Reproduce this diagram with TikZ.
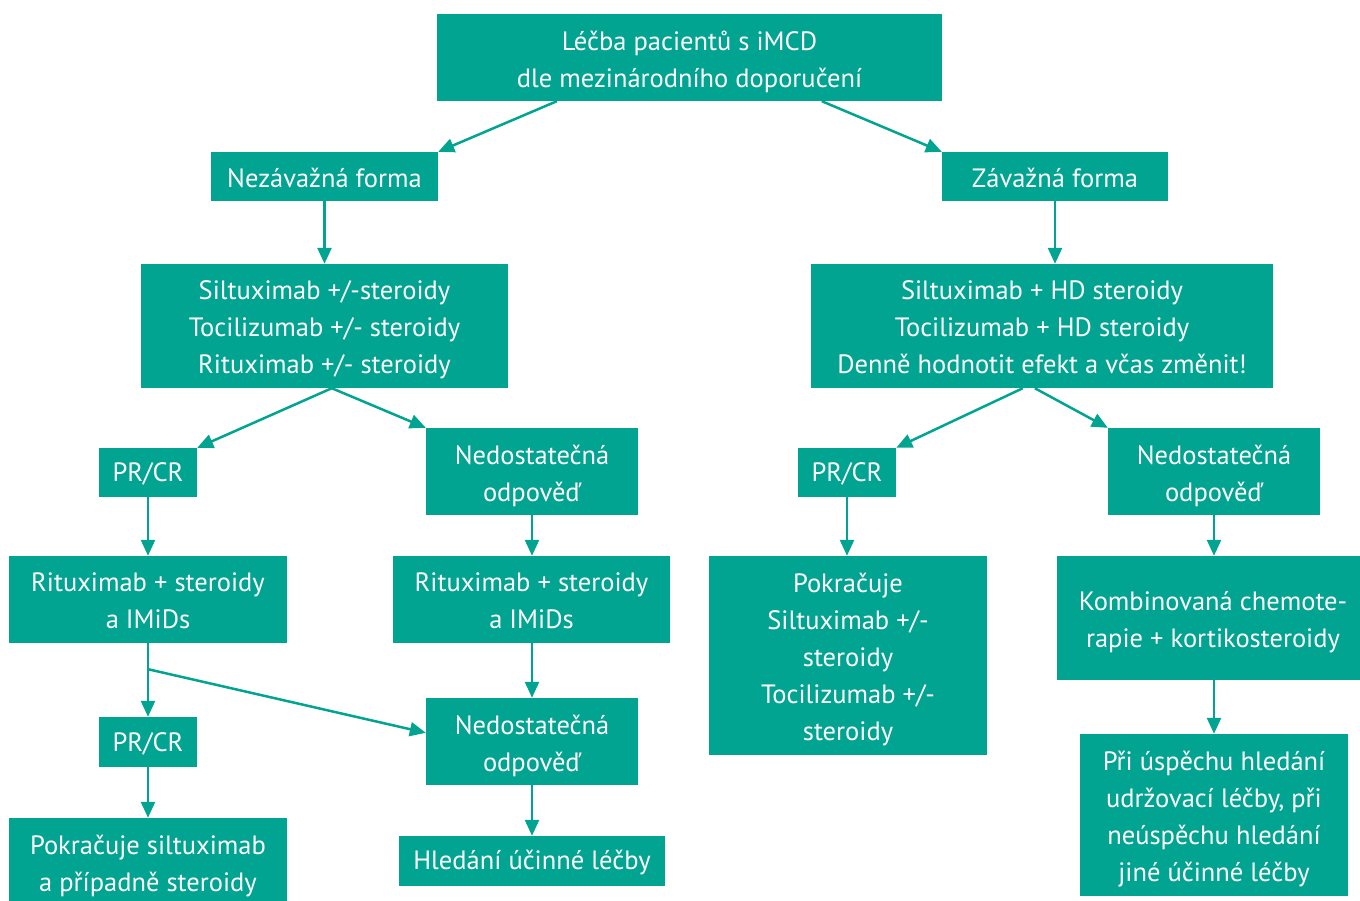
\documentclass[tikz,border=0pt]{standalone}
\usepackage{fontspec}
\setmainfont{PT Sans}
\usetikzlibrary{arrows.meta,calc}
\definecolor{teal1}{HTML}{00A491}
\tikzset{
  box/.style={fill=teal1, draw=none, inner sep=0pt},
  boxtext/.style={text=white, align=center, inner sep=0pt,
    font=\fontsize{26.5}{37}\selectfont},
  conn/.style={draw=teal1, line width=2.5pt, -{Triangle[length=16pt,width=14pt]}}
}
% name, cx, cy, w, h, text-offset, text
\newcommand{\bx}[7]{\node[box, minimum width=#4pt, minimum height=#5pt] (#1) at (#2,#3) {};
  \node[boxtext] (#1t) at ($(#1)+(0,#6)$) {#7};}
\begin{document}
\begin{tikzpicture}[x=1pt,y=-1pt]
\useasboundingbox (0,0) rectangle (1360,900);
\bx{top}{689.5}{57.5}{505}{87}{4}{Léčba pacientů s iMCD\\dle mezinárodního doporučení}
\bx{nez}{324.5}{176.5}{227}{49}{1.5}{Nezávažná forma}
\bx{zav}{1055}{176.5}{226}{49}{1.5}{Závažná forma}
\bx{L}{324.5}{326}{367}{124}{4}{Siltuximab +/-steroidy\\Tocilizumab +/- steroidy\\Rituximab +/- steroidy}
\bx{R}{1042}{326}{462}{124}{1}{Siltuximab + HD steroidy\\Tocilizumab + HD steroidy\\Denně hodnotit efekt a včas změnit!}
\bx{pra}{148}{472.5}{98}{49}{1.5}{PR/CR}
\bx{na}{532}{471.5}{212}{87}{4}{Nedostatečná\\odpověď}
\bx{ra}{148}{599.5}{278}{87}{1}{Rituximab + steroidy\\a IMiDs}
\bx{rb}{531.5}{599.5}{277}{87}{1}{Rituximab + steroidy\\a IMiDs}
\bx{prb}{148}{742}{98}{50}{1.5}{PR/CR}
\bx{nb}{532}{741.5}{212}{87}{4}{Nedostatečná\\odpověď}
\bx{poka}{148}{863}{278}{90}{3}{Pokračuje siltuximab\\a případně steroidy}
\bx{hl}{532}{861}{266}{50}{1.5}{Hledání účinné léčby}
\bx{prc}{847}{472.5}{98}{49}{1.5}{PR/CR}
\bx{nc}{1214}{471.5}{212}{87}{4}{Nedostatečná\\odpověď}
\bx{pokb}{848}{655.5}{278}{199}{4}{Pokračuje\\Siltuximab +/-\\steroidy\\Tocilizumab +/-\\steroidy}
\bx{komb}{1213}{618}{312}{124}{4}{Kombinovaná chemote-\\rapie + kortikosteroidy}
\bx{pri}{1214}{815}{268}{162}{4}{Při úspěchu hledání\\udržovací léčby, při\\neúspěchu hledání\\jiné účinné léčby}
\coordinate (br) at ($(ra.south)+(0,26)$);
\draw[conn] ($(top.south west)+(120,0)$) -- (nez.north east);
\draw[conn] ($(top.south west)+(385,0)$) -- (zav.north west);
\draw[conn] (nez) -- (L);
\draw[conn] (zav.south) -- (zav.south |- R.north);
\draw[conn] ($(L.south west)+(191,0)$) -- (pra.north east);
\draw[conn] ($(L.south west)+(191,0)$) -- (na.north west);
\draw[conn] ($(R.south west)+(212,0)$) -- (prc.north east);
\draw[conn] ($(R.south west)+(224,0)$) -- (nc.north west);
\draw[conn] (pra) -- (ra);
\draw[conn] (na) -- (na.south |- rb.north);
\draw[conn] (rb.south -| na.south) -- (nb);
\draw[conn] (ra) -- (prb);
\draw[conn] (br) -- ($(nb.north west)+(0,35)$);
\draw[conn] (prb) -- (poka);
\draw[conn] (nb) -- (hl);
\draw[conn] (prc.south) -- (prc.south |- pokb.north);
\draw[conn] (nc.south) -- (nc.south |- komb.north);
\draw[conn] (komb.south -| nc.south) -- (nc.south |- pri.north);
\end{tikzpicture}
\end{document}
